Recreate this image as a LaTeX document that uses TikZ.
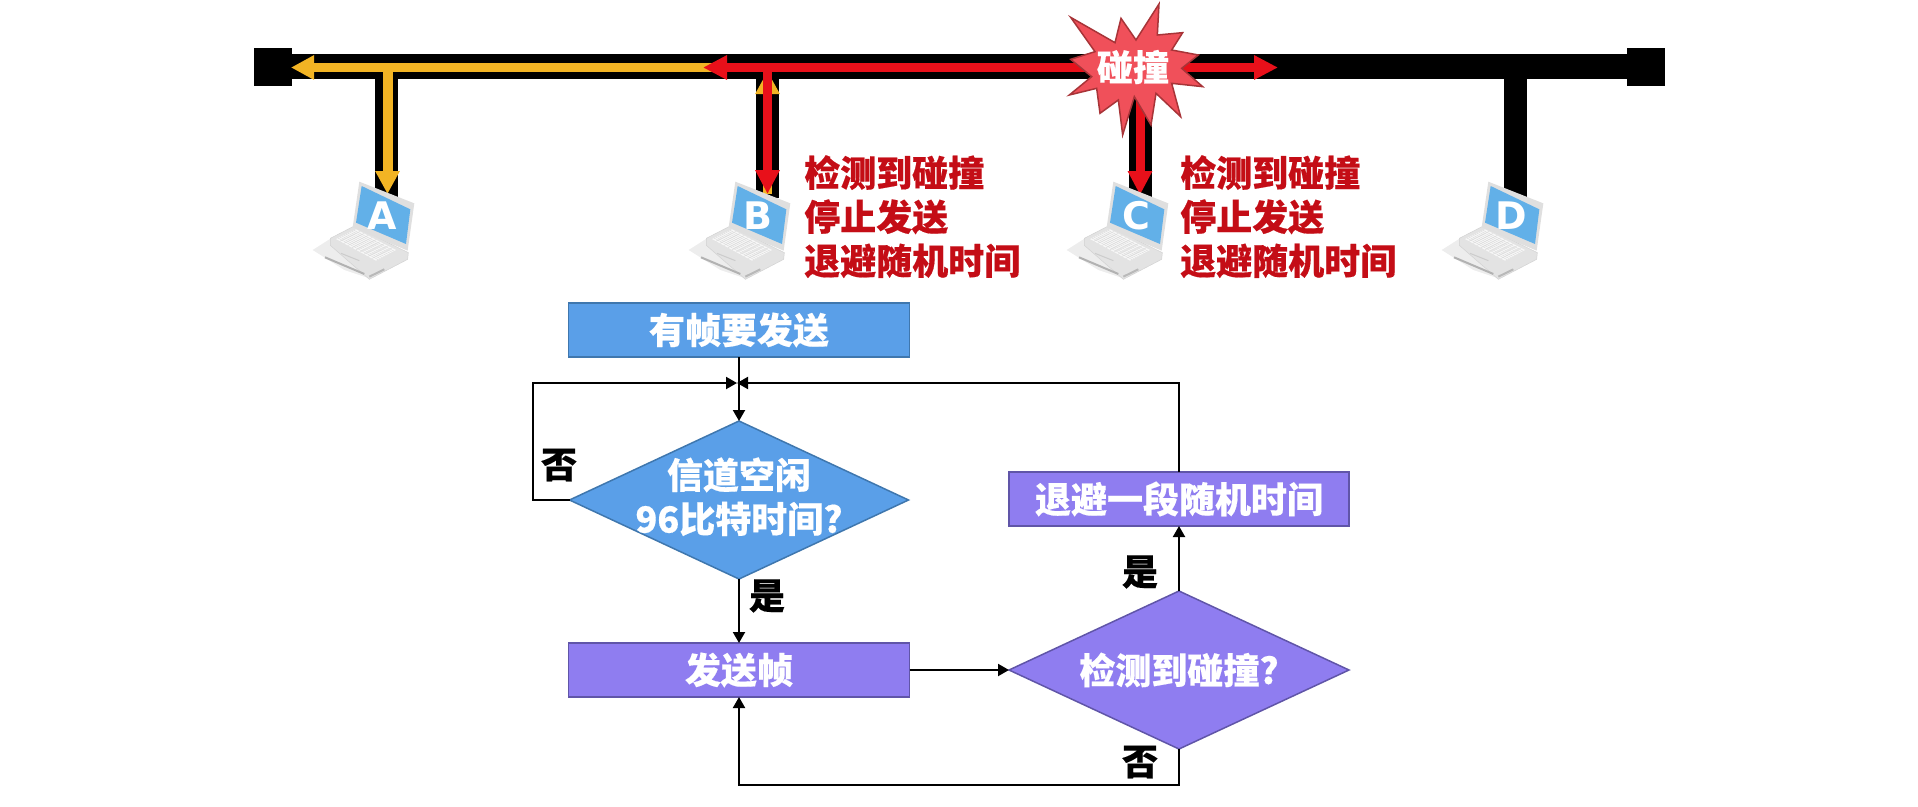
\documentclass[tikz,border=0pt]{standalone}
\usepackage{fontspec}
\setmainfont{Noto Sans CJK SC}[BoldFeatures={FakeBold=0.4}]
\newfontfamily\letterfont{DejaVu Sans}
\usetikzlibrary{arrows.meta,shapes.geometric,calc}
\definecolor{flowblue}{HTML}{5A9FE8}
\definecolor{flowblueline}{HTML}{3F77AE}
\definecolor{flowpurple}{HTML}{8F7DF0}
\definecolor{flowpurpleline}{HTML}{6055A8}
\definecolor{sigorange}{HTML}{F2B424}
\definecolor{sigred}{HTML}{E8101A}
\definecolor{noteRed}{HTML}{C40D16}
\definecolor{burst}{HTML}{F0505A}
\definecolor{burstline}{HTML}{A83438}
\definecolor{screenblue}{HTML}{62B0E8}
\tikzset{
  cnfont/.style={font=\fontsize{36}{44}\selectfont\bfseries},
  terminal/.style={fill=black,minimum width=38pt,minimum height=38pt,inner sep=0pt},
  busline/.style={line width=25pt,black},
  stubline/.style={line width=23pt,black},
  orangesig/.style={line width=9pt,sigorange,-{Triangle[length=23pt,width=23pt]}},
  redsig/.style={line width=9pt,sigred,-{Triangle[length=24pt,width=23pt]}},
  flowbox/.style={cnfont,white,minimum height=54pt,inner sep=0pt,outer sep=0pt,line width=1.5pt},
  flowdiamond/.style={cnfont,white,diamond,aspect=2.15,inner sep=0pt,outer sep=0pt,minimum height=158pt,line width=1.5pt},
  flowline/.style={line width=2pt,black,-{Triangle[length=11pt,width=12pt]}},
  flowtag/.style={cnfont,black,inner sep=0pt},
  notetext/.style={cnfont,noteRed,align=left,anchor=north west,inner sep=0pt},
  pics/laptop/.style={code={
    \fill[gray!14] (35,240) -- (90,205) -- (205,325) -- (130,300) -- cycle;
    \fill[gray!22,draw=gray!35,line width=0.5pt] (88,205) -- (160,168) -- (322,248) -- (320,268) -- (205,328) -- (88,226) -- cycle;
    \fill[gray!6] (105,207) -- (165,178) -- (285,240) -- (225,272) -- cycle;
    \foreach \t in {0.1,0.2,...,0.95}{
      \draw[gray!30,line width=0.4pt] ($(105,207)!\t!(165,178)$) -- ($(225,272)!\t!(285,240)$);
      \draw[gray!30,line width=0.4pt] ($(105,207)!\t!(225,272)$) -- ($(165,178)!\t!(285,240)$);
    }
    \draw[gray!60,line width=2pt] (72,262) -- (190,312);
    \draw[gray!40,line width=1pt] (120,250) -- (175,272);
    \draw[gray!55,line width=2pt] (205,320) -- (250,298);
    \fill[gray!25] (175,35) -- (340,100) -- (320,242) -- (155,172) -- cycle;
    \fill[screenblue] (182,48) -- (328,118) -- (315,222) -- (165,158) -- cycle;
    \node[white,font=\fontsize{38}{38}\selectfont\letterfont\bfseries,inner sep=0pt] (letter) at (244,138) {#1};
  }},
}
\begin{document}
\begin{tikzpicture}[x=1pt, y=-1pt]
\useasboundingbox (0,0) rectangle (1918,806);
%% --- bus ---
\node[terminal] (termL) at (273,66.5) {};
\node[terminal] (termR) at (1646,66.5) {};
\draw[busline] (termL) -- (termR);
\foreach \n/\x in {A/386.5, B/767.5, C/1140, D/1515}{
  \coordinate (tap\n) at (\x,67);
  \coordinate (host\n) at (\x,198);
  \draw[stubline] (tap\n) -- (host\n);
}

%% --- signals ---
\coordinate (sigA) at (387.5,67.5);
\coordinate (sigB) at (767.5,67.5);
\coordinate (sigC) at (1140,67.5);
\coordinate (endA) at (387.5,194);
\coordinate (endB) at (767.5,194);
\coordinate (endC) at (1140,195);
\coordinate (upB) at (767.5,71);
\coordinate (sigL) at (291,67.5);
\coordinate (redL) at (703,67.5);
\coordinate (redR) at (1278,67.5);
\draw[orangesig] (sigB) -- (sigL);
\draw[orangesig,line width=10pt] (sigA) -- (endA);
\draw[orangesig] (endB) -- (upB);
\draw[redsig] (sigC) -- (redL);
\draw[redsig] (sigC) -- (redR);
\draw[redsig] (upB) -- (endB);
\draw[redsig] (sigC) -- (endC);

%% --- collision burst ---
\begin{scope}[shift={(1050,0)},scale=0.3333]
\fill[burst,draw=burstline,line width=1.5pt] (327,12) -- (322,105) -- (398,98) -- (365,150) -- (445,165)
  -- (395,205) -- (458,260) -- (365,250) -- (392,350) -- (318,280) -- (303,375) -- (253,290)
  -- (218,405) -- (205,300) -- (150,340) -- (140,265) -- (58,285) -- (125,230) -- (62,178)
  -- (135,155) -- (62,52) -- (195,128) -- (213,55) -- (258,120) -- cycle;
\end{scope}
\node[cnfont,white,inner sep=0pt] (hit) at (1133,67) {碰撞};

%% --- hosts ---
\foreach \n/\x in {A/301, B/677, C/1055, D/1430}{
  \pic (lap\n) [shift={(\x,170)},scale=0.3333] {laptop=\n};
}
\node[notetext] (noteB) at (804,155) {检测到碰撞\\停止发送\\退避随机时间};
\node[notetext] (noteC) at (1180,155) {检测到碰撞\\停止发送\\退避随机时间};

%% --- flow chart ---
\node[flowbox,fill=flowblue,draw=flowblueline,minimum width=341pt] (start) at (739,330) {有帧要发送};
\node[flowdiamond,fill=flowblue,draw=flowblueline,align=center,inner sep=-10pt,minimum width=339pt] (idle) at (739,500) {信道空闲\\96比特时间?\rule[-10pt]{0pt}{0pt}};
\node[flowbox,fill=flowpurple,draw=flowpurpleline,minimum width=341pt] (send) at (739,670) {发送帧};
\node[flowdiamond,fill=flowpurple,draw=flowpurpleline,minimum width=340pt] (detect) at (1179,670) {检测到碰撞?};
\node[flowbox,fill=flowpurple,draw=flowpurpleline,minimum width=340pt] (backoff) at (1179,499) {退避一段随机时间};

\coordinate (merge) at (739,383);
\coordinate (loopL) at (533,383);
\coordinate (loopB) at (1179,785);
\draw[flowline,shorten >=2pt] (idle.west) -| (loopL) -- (merge);
\draw[flowline,shorten >=-2pt] (backoff.north) |- (merge);
\draw[flowline] (start) -- (idle);
\draw[flowline] (idle) -- (send);
\draw[flowline] (send) -- (detect);
\draw[flowline] (detect) -- (backoff);
\draw[flowline] (detect.south) -- (loopB) -| (send.south);

\node[flowtag] (tagA) at (559,465) {否};
\node[flowtag] (tagB) at (767,596) {是};
\node[flowtag] (tagC) at (1140,572) {是};
\node[flowtag] (tagD) at (1140,762) {否};
\end{tikzpicture}
\end{document}
